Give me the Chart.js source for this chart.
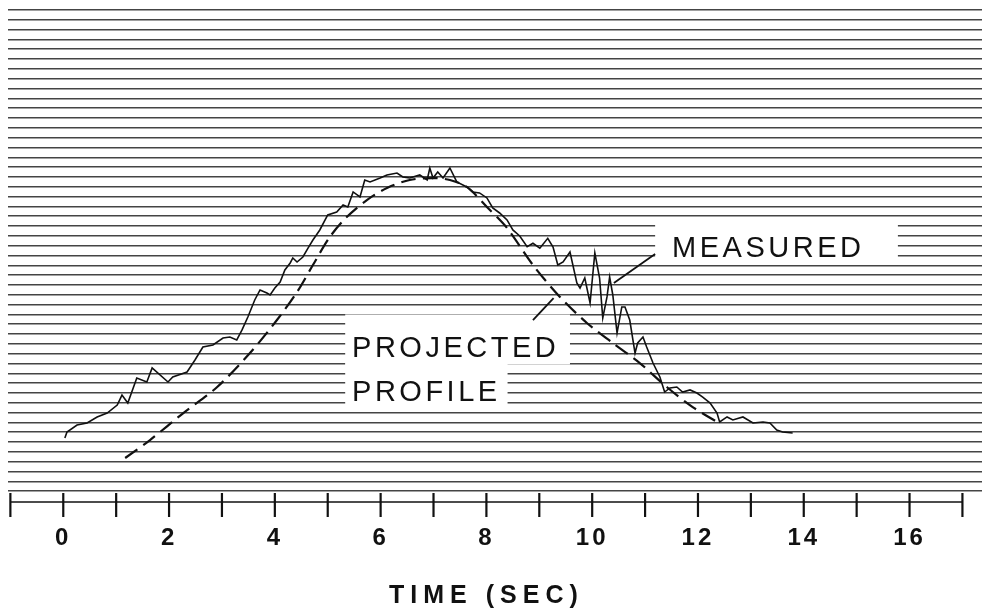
<!DOCTYPE html>
<html>
<head>
<meta charset="utf-8">
<script src="https://cdn.jsdelivr.net/npm/chart.js@4.4.1/dist/chart.umd.min.js"></script>
<style>
  html, body { margin: 0; padding: 0; background: #fff; }
  #wrap { width: 982px; height: 611px; position: relative; }
</style>
</head>
<body>
<div id="wrap"><canvas id="profileChart"></canvas></div>
<script>
// time axis (seconds)
var tickSeconds = [-1, 0, 1, 2, 3, 4, 5, 6, 7, 8, 9, 10, 11, 12, 13, 14, 15, 16, 17];
var tickLabels = [0, 2, 4, 6, 8, 10, 12, 14, 16];
var axisTitle = 'TIME (SEC)';

// measured trace, in chart-paper divisions
var measuredTime = [0.03, 0.07, 0.26, 0.45, 0.64, 0.83, 1.02, 1.11, 1.22, 1.39, 1.58, 1.68, 1.98, 2.07, 2.34, 2.49, 2.64, 2.83, 3.02, 3.15,
  3.28, 3.38, 3.49, 3.62, 3.72, 3.85, 3.91, 4.00, 4.10, 4.19, 4.29, 4.34, 4.42, 4.53, 4.63, 4.72, 4.85, 5.00, 5.17, 5.29,
  5.38, 5.48, 5.61, 5.70, 5.80, 5.99, 6.12, 6.31, 6.42, 6.55, 6.74, 6.88, 6.93, 6.99, 7.08, 7.18, 7.31, 7.44, 7.63, 7.74,
  7.87, 8.01, 8.12, 8.25, 8.39, 8.50, 8.63, 8.77, 8.88, 9.01, 9.16, 9.26, 9.35, 9.45, 9.58, 9.71, 9.77, 9.86, 9.96, 10.05,
  10.14, 10.20, 10.28, 10.33, 10.39, 10.47, 10.56, 10.62, 10.71, 10.81, 10.86, 10.96, 11.03, 11.15, 11.28, 11.37, 11.47, 11.60, 11.71, 11.85,
  11.98, 12.09, 12.23, 12.36, 12.41, 12.55, 12.66, 12.85, 13.04, 13.23, 13.36, 13.49, 13.60, 13.79];
var measuredLevel = [5.42, 6.03, 6.74, 6.94, 7.55, 7.96, 8.77, 9.79, 8.98, 11.53, 11.12, 12.55, 11.12, 11.63, 12.14, 13.36, 14.68, 14.89, 15.60, 15.70,
  15.40, 16.42, 17.74, 19.47, 20.49, 20.18, 19.98, 20.69, 21.30, 22.53, 23.24, 23.75, 23.34, 23.85, 24.77, 25.58, 26.60, 28.13, 28.43, 29.14,
  28.94, 30.47, 29.96, 31.69, 31.49, 31.89, 32.20, 32.40, 32.00, 31.89, 32.20, 31.69, 32.91, 31.89, 32.50, 31.89, 32.91, 31.49, 30.98, 30.47,
  30.37, 29.86, 28.84, 28.33, 27.62, 26.60, 25.99, 24.90, 25.25, 24.75, 25.75, 24.87, 23.03, 23.34, 24.36, 21.20, 20.69, 21.71, 19.16, 24.26,
  21.71, 17.64, 19.78, 21.81, 19.98, 16.11, 18.76, 18.76, 17.43, 14.07, 15.09, 15.70, 14.68, 13.05, 11.63, 10.10, 10.51, 10.61, 10.10, 10.31,
  10.00, 9.59, 8.98, 7.96, 7.05, 7.56, 7.25, 7.56, 6.94, 7.05, 6.94, 6.23, 6.03, 5.93];

// projected profile
var projectedTime = [1.17, 1.64, 2.27, 2.91, 3.53, 4.04, 4.42, 4.72, 5.04, 5.36, 5.74, 6.12, 6.55, 6.99, 7.31, 7.63, 8.01, 8.39, 8.88, 9.39,
  9.90, 10.39, 10.90, 11.41, 11.90, 12.36];
var projectedLevel = [3.38, 5.21, 7.96, 10.61, 14.07, 17.43, 20.28, 23.03, 25.89, 27.92, 29.65, 30.88, 31.69, 31.89, 31.69, 30.98, 28.94, 26.80, 23.03, 19.78,
  17.13, 15.09, 13.05, 10.61, 8.57, 7.05];

function pairs(xs, ys) {
  return xs.map(function(t, i) { return { x: t, y: ys[i] }; });
}

// label boxes and leader lines, in data units
var notes = [
  { text: 'MEASURED', at: [11.51, 23.85], box: [11.19, 27.45, 15.78, 23.34], lead: [11.19, 24.15, 10.41, 21.20] },
  { text: 'PROJECTED', at: [5.46, 13.67], box: [5.33, 18.0, 9.58, 12.9], lead: [8.88, 17.43, 9.27, 19.67] },
  { text: 'PROFILE', at: [5.46, 9.2], box: [5.33, 13.0, 8.40, 8.6] }
];

var overlay = {
  id: 'overlay',
  beforeDraw: function(chart) {
    chart.ctx.letterSpacing = '3px';
  },
  beforeDatasetsDraw: function(chart) {
    var ctx = chart.ctx, x = chart.scales.x, y = chart.scales.y;
    ctx.save();
    ctx.fillStyle = '#fff';
    notes.forEach(function(n) {
      var x0 = x.getPixelForValue(n.box[0]), y0 = y.getPixelForValue(n.box[1]);
      var x1 = x.getPixelForValue(n.box[2]), y1 = y.getPixelForValue(n.box[3]);
      ctx.fillRect(x0, y0, x1 - x0, y1 - y0);
    });
    // time axis line and tick marks
    var base = chart.chartArea.bottom;
    ctx.strokeStyle = '#111';
    ctx.lineWidth = 1.6;
    ctx.beginPath();
    ctx.moveTo(x.getPixelForValue(tickSeconds[0]), base);
    ctx.lineTo(x.getPixelForValue(tickSeconds[tickSeconds.length - 1]), base);
    ctx.stroke();
    ctx.lineWidth = 2.2;
    tickSeconds.forEach(function(t) {
      var px = x.getPixelForValue(t);
      ctx.beginPath();
      ctx.moveTo(px, base - 9);
      ctx.lineTo(px, base + 15);
      ctx.stroke();
    });
    ctx.restore();
  },
  afterDatasetsDraw: function(chart) {
    var ctx = chart.ctx, x = chart.scales.x, y = chart.scales.y;
    ctx.save();
    ctx.strokeStyle = '#111';
    ctx.lineWidth = 1.8;
    ctx.fillStyle = '#111';
    ctx.font = '29px "Liberation Sans", Arial, sans-serif';
    ctx.letterSpacing = '3.5px';
    ctx.textAlign = 'left';
    ctx.textBaseline = 'alphabetic';
    notes.forEach(function(n) {
      ctx.fillText(n.text, x.getPixelForValue(n.at[0]), y.getPixelForValue(n.at[1]));
      if (n.lead) {
        ctx.beginPath();
        ctx.moveTo(x.getPixelForValue(n.lead[0]), y.getPixelForValue(n.lead[1]));
        ctx.lineTo(x.getPixelForValue(n.lead[2]), y.getPixelForValue(n.lead[3]));
        ctx.stroke();
      }
    });
    // axis title, centred under the tick span
    var mid = (tickSeconds[0] + tickSeconds[tickSeconds.length - 1]) / 2;
    ctx.font = 'bold 25px "Liberation Sans", Arial, sans-serif';
    ctx.letterSpacing = '6px';
    ctx.textAlign = 'center';
    ctx.textBaseline = 'alphabetic';
    ctx.fillText(axisTitle, x.getPixelForValue(mid), 603);
    ctx.restore();
  }
};

var ctx = document.getElementById('profileChart').getContext('2d');
var chart = new Chart(ctx, {
  type: 'line',
  data: {
    datasets: [{
      label: 'Measured',
      data: pairs(measuredTime, measuredLevel),
      borderColor: '#111',
      borderWidth: 1.6,
      pointRadius: 0,
      tension: 0,
      fill: false
    }, {
      label: 'Projected profile',
      data: pairs(projectedTime, projectedLevel),
      borderColor: '#111',
      borderWidth: 2.2,
      borderDash: [15, 7],
      pointRadius: 0,
      tension: 0.3,
      fill: false
    }]
  },
  options: {
    responsive: true,
    maintainAspectRatio: false,
    animation: false,
    layout: { padding: { top: 10, left: 8, right: 0, bottom: 0 } },
    plugins: {
      legend: { display: false },
      tooltip: { enabled: false }
    },
    scales: {
      x: {
        type: 'linear',
        min: -1.045,
        max: 17.37,
        afterFit: function(scale) { scale.height = 109; },
        afterBuildTicks: function(scale) {
          scale.ticks = tickSeconds.map(function(v) { return { value: v }; });
        },
        grid: { display: true, drawOnChartArea: false, color: 'rgba(0,0,0,0)', tickLength: 22 },
        border: { display: false },
        ticks: {
          padding: 0,
          maxRotation: 0,
          autoSkip: false,
          color: '#111',
          font: { family: '"Liberation Sans", Arial, sans-serif', size: 24, weight: 'bold' },
          callback: function(value) {
            return tickLabels.indexOf(value) >= 0 ? String(value) : '';
          }
        }
      },
      y: {
        type: 'linear',
        min: -1.1,
        max: 49,
        afterFit: function(scale) { scale.width = 0; },
        afterBuildTicks: function(scale) {
          var rows = [];
          for (var i = 0; i <= 49; i++) rows.push({ value: i });
          scale.ticks = rows;
        },
        ticks: { display: false },
        border: { display: false },
        grid: { color: 'rgba(35,35,35,0.85)', lineWidth: 1.6, drawTicks: false }
      }
    }
  },
  plugins: [overlay]
});
</script>
</body>
</html>
